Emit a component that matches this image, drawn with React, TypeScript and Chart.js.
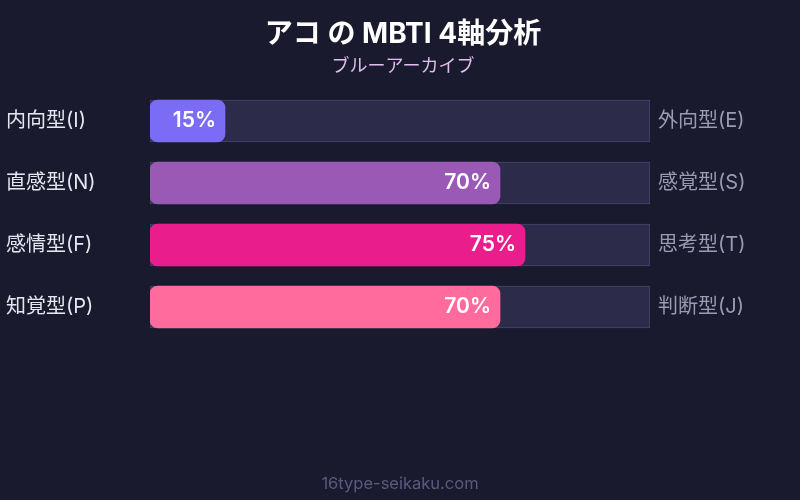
import React, { useEffect, useRef } from "react";
import { Chart, registerables } from "chart.js";

Chart.register(...registerables);

const leftLabels = ["内向型(I)", "直感型(N)", "感情型(F)", "知覚型(P)"];
const rightLabels = ["外向型(E)", "感覚型(S)", "思考型(T)", "判断型(J)"];
const values = [15, 70, 75, 70];
const fullValues = [100, 100, 100, 100];
const barColors = ["#7b6cf6", "#9b59b6", "#e91e8c", "#ff6b9d"];
const titleText = "アコ の MBTI 4軸分析";
const subtitleText = "ブルーアーカイブ";
const footerText = "16type-seikaku.com";

const FONT = "Inter, 'Noto Sans CJK JP', sans-serif";

export default function App() {
  const ref = useRef<HTMLCanvasElement | null>(null);

  useEffect(() => {
    const canvas = ref.current;
    if (!canvas) return;

    const bgPlugin = {
      id: "bgFill",
      beforeDraw(chart: any) {
        const { ctx, width, height } = chart;
        ctx.save();
        ctx.fillStyle = "#1a1a2e";
        ctx.fillRect(0, 0, width, height);
        ctx.restore();
      },
    };

    const valuePlugin = {
      id: "valueLabels",
      afterDatasetsDraw(chart: any) {
        const { ctx } = chart;
        const meta = chart.getDatasetMeta(0);
        ctx.save();
        ctx.font = `600 21px ${FONT}`;
        ctx.fillStyle = "#ffffff";
        ctx.textAlign = "right";
        ctx.textBaseline = "middle";
        meta.data.forEach((bar: any, i: number) => {
          ctx.fillText(values[i] + "%", bar.x - 9, bar.y);
        });
        ctx.restore();
      },
    };

    const footerPlugin = {
      id: "footer",
      afterDraw(chart: any) {
        const { ctx, width } = chart;
        ctx.save();
        ctx.font = `16.5px ${FONT}`;
        ctx.fillStyle = "#5a5a7e";
        ctx.textAlign = "center";
        ctx.textBaseline = "middle";
        ctx.fillText(footerText, width / 2, 484);
        ctx.restore();
      },
    };

    const chart = new Chart(canvas, {
      type: "bar",
      data: {
        labels: leftLabels,
        datasets: [
          {
            data: values,
            backgroundColor: barColors,
            borderWidth: 0,
            borderRadius: 8,
            borderSkipped: false,
            barThickness: 42,
            grouped: false,
            yAxisID: "y",
          } as any,
          {
            data: fullValues,
            backgroundColor: "#2d2b4a",
            borderColor: "#47456b",
            borderWidth: 1,
            borderRadius: 0,
            borderSkipped: false,
            barThickness: 42,
            grouped: false,
            yAxisID: "y",
          } as any,
        ],
      },
      options: {
        indexAxis: "y",
        animation: false,
        responsive: false,
        devicePixelRatio: 1,
        layout: { padding: { top: 0, bottom: 162, left: 6, right: 0 } },
        plugins: {
          legend: { display: false },
          tooltip: { enabled: false },
          title: {
            display: true,
            text: titleText,
            color: "#ffffff",
            font: { family: FONT, size: 28, weight: "bold", lineHeight: 1.2 },
            padding: { top: 18, bottom: 0 },
          },
          subtitle: {
            display: true,
            text: subtitleText,
            color: "#e2bdf0",
            font: { family: FONT, size: 18, lineHeight: 1.2 },
            padding: { top: 4, bottom: 12.8 },
          },
        },
        scales: {
          x: { display: false, min: 0, max: 100 },
          y: {
            position: "left",
            grid: { display: false, drawTicks: false },
            border: { display: false },
            ticks: {
              color: "#e6e6f0",
              font: { family: FONT, size: 20 },
              crossAlign: "far",
              padding: 0,
            },
            afterFit(scale: any) {
              scale.width = 144;
            },
          },
          y2: {
            type: "category",
            labels: rightLabels,
            position: "right",
            offset: true,
            grid: { display: false, drawTicks: false },
            border: { display: false },
            ticks: {
              color: "#9a9ab4",
              font: { family: FONT, size: 20 },
              padding: 8,
            },
            afterFit(scale: any) {
              scale.width = 150;
            },
          } as any,
        },
      },
      plugins: [bgPlugin, valuePlugin, footerPlugin],
    });

    return () => chart.destroy();
  }, []);

  return (
    <div style={{ position: "fixed", left: 0, top: 0, width: 800, height: 500 }}>
      <canvas ref={ref} width={800} height={500} style={{ width: 800, height: 500, display: "block" }} />
    </div>
  );
}
